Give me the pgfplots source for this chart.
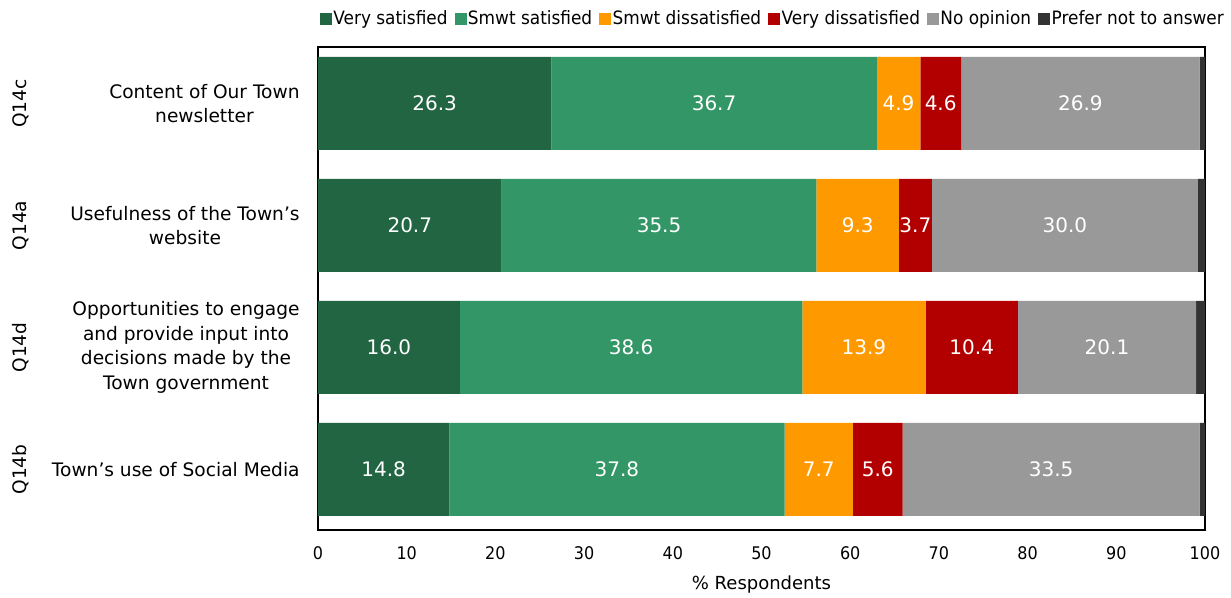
\documentclass[border=0pt]{standalone}
\usepackage{pgfplots}
\pgfplotsset{compat=1.18}
\usepackage{pgfplotstable}
\usepackage{fontspec}
\setmainfont{DejaVu Sans}
\newfontfamily\narrowfont[FakeStretch=0.92]{DejaVu Sans}
\definecolor{vs}{RGB}{34,101,66}
\definecolor{ss}{RGB}{50,150,102}
\definecolor{sd}{RGB}{255,153,0}
\definecolor{vd}{RGB}{178,0,0}
\definecolor{no}{RGB}{153,153,153}
\definecolor{pn}{RGB}{51,51,51}

\pgfplotstableread{
y a b c d e f
0 14.8 37.8 7.7 5.6 33.5 0.6
1 16.0 38.6 13.9 10.4 20.1 1.0
2 20.7 35.5 9.3 3.7 30.0 0.8
3 26.3 36.7 4.9 4.6 26.9 0.6
}\data

\begin{document}
\begin{tikzpicture}
\begin{axis}[
  xbar stacked,
  scale only axis,
  width=443.5pt, height=241.5pt,
  xmin=0, xmax=100,
  ymin=-0.496, ymax=3.463,
  bar width=46.5pt,
  axis line style={black, line width=0.8pt},
  major tick length=0pt,
  xtick={0,10,...,100},
  ytick={0,1,2,3},
  yticklabels={Town’s use of Social Media, {Opportunities to engage\\and provide input into\\decisions made by the\\Town government}, {Usefulness of the Town’s\\website}, {Content of Our Town\\newsletter}},
  yticklabel style={anchor=east, inner sep=0pt, xshift=-9pt, align=center, font=\fontsize{9.3}{12.3}\selectfont},
  xticklabel style={anchor=center, inner sep=0pt, yshift=-11.5pt, font=\narrowfont\fontsize{8.7}{10}\selectfont},
  /pgf/number format/assume math mode=true,
  xlabel={\% Respondents},
  every axis x label/.style={at={(axis description cs:0.5,0)}, anchor=center, yshift=-27.5pt, font=\fontsize{9}{11}\selectfont},
  legend columns=6,
  legend style={at={(0.002,1.058)}, anchor=west, draw=none, fill=none, inner sep=0pt, font=\narrowfont\fontsize{9.2}{11}\selectfont, nodes={inner sep=0.6pt}, /tikz/every even column/.append style={column sep=3pt}},
  legend image code/.code={\fill[#1] (0pt,-3pt) rectangle (6pt,3pt);},
  clip=false,
  lbl/.style={nodes near coords, point meta=explicit symbolic, every node near coord/.append style={anchor=center, text=white, font=\fontsize{10}{12}\selectfont}},
]
\addplot[fill=vs, draw=none, lbl] table[x=a, y=y, meta=a] {\data};
\addlegendentry{Very satisfied}
\addplot[fill=ss, draw=none, lbl] table[x=b, y=y, meta=b] {\data};
\addlegendentry{Smwt satisfied}
\addplot[fill=sd, draw=none, lbl] table[x=c, y=y, meta=c] {\data};
\addlegendentry{Smwt dissatisfied}
\addplot[fill=vd, draw=none, lbl] table[x=d, y=y, meta=d] {\data};
\addlegendentry{Very dissatisfied}
\addplot[fill=no, draw=none, lbl] table[x=e, y=y, meta=e] {\data};
\addlegendentry{No opinion}
\addplot[fill=pn, draw=none] table[x=f, y=y] {\data};
\addlegendentry{Prefer not to answer}

\node[rotate=90, font=\fontsize{9.3}{11}\selectfont] at (axis cs:-33.5,3) {Q14c};
\node[rotate=90, font=\fontsize{9.3}{11}\selectfont] at (axis cs:-33.5,2) {Q14a};
\node[rotate=90, font=\fontsize{9.3}{11}\selectfont] at (axis cs:-33.5,1) {Q14d};
\node[rotate=90, font=\fontsize{9.3}{11}\selectfont] at (axis cs:-33.5,0) {Q14b};
\end{axis}
\pgfresetboundingbox
\path[use as bounding box] (current axis.south west) ++(-159pt,-34pt) rectangle ++(615.5pt,299pt);
\end{tikzpicture}
\end{document}
